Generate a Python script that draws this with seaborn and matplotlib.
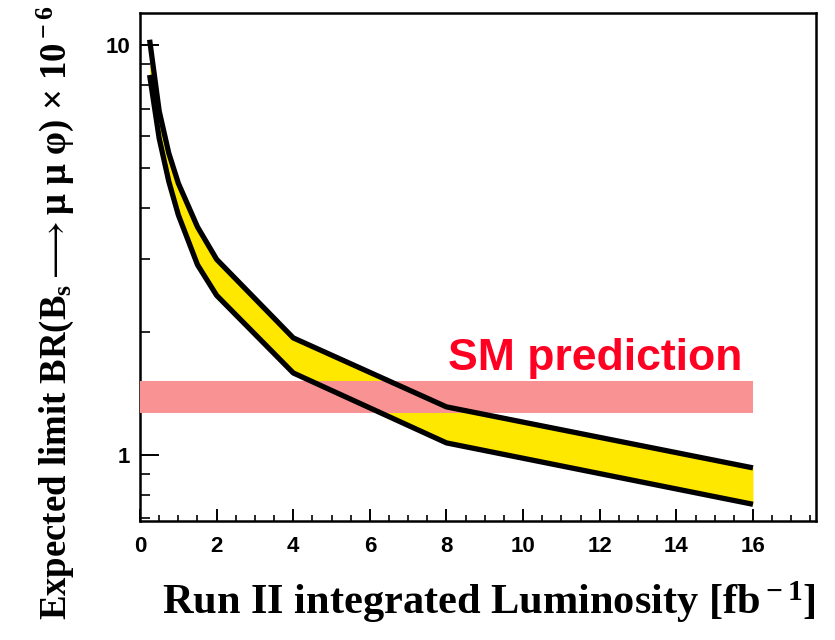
import numpy as np
import pandas as pd
import matplotlib
matplotlib.use("Agg")
import matplotlib.pyplot as plt
from matplotlib.ticker import FixedLocator, MultipleLocator, NullFormatter, FixedFormatter
import seaborn as sns

# Expected limit band vs Run II integrated luminosity
lumi = [0.25, 0.5, 0.75, 1.0, 1.5, 2.0, 4.0, 8.0, 16.0]
limit_high = [10.3, 6.9, 5.45, 4.6, 3.6, 3.0, 1.93, 1.31, 0.93]
limit_low = [8.45, 5.92, 4.65, 3.85, 2.91, 2.45, 1.585, 1.07, 0.758]

# Standard Model prediction band
sm_lumi = [0.0, 16.0]
sm_low = 1.264
sm_high = 1.517

x_ticks = [0, 2, 4, 6, 8, 10, 12, 14, 16]
y_major = [1, 10]
y_minor = [0.7, 0.8, 0.9, 2, 3, 4, 5, 6, 7, 8, 9]

sns.set_theme(style="white")
plt.rcParams["font.family"] = ["Liberation Sans", "DejaVu Sans"]
plt.rcParams["mathtext.fontset"] = "custom"
plt.rcParams["mathtext.rm"] = "Liberation Serif:bold"
plt.rcParams["mathtext.it"] = "Liberation Serif:bold"
plt.rcParams["mathtext.bf"] = "Liberation Serif:bold"

fig = plt.figure(figsize=(8.35, 6.4), dpi=100)
ax = fig.add_axes([0.1677, 0.1859, 0.8093, 0.7938])

df = pd.DataFrame({"lumi": lumi, "high": limit_high, "low": limit_low})

ax.fill_between(df["lumi"], df["low"], df["high"], color="#ffe800",
                linewidth=0, zorder=2)
# pink band drawn over the yellow where they overlap
ax.fill_between(sm_lumi, [sm_low] * 2, [sm_high] * 2, color="#f99393",
                linewidth=0, zorder=3)
sns.lineplot(data=df, x="lumi", y="high", color="black", linewidth=3.8,
             ax=ax, zorder=4, sort=False, solid_capstyle="butt")
sns.lineplot(data=df, x="lumi", y="low", color="black", linewidth=3.8,
             ax=ax, zorder=4, sort=False, solid_capstyle="butt")

ax.text(8.04, 1.61, "SM prediction", color="#ff0022", fontsize=32,
        fontweight="bold", family=["Liberation Sans", "DejaVu Sans"],
        ha="left", va="baseline", zorder=5)

ax.set_yscale("log")
ax.set_xlim(0, 17.64)
ax.set_ylim(0.69, 11.97)

ax.xaxis.set_major_locator(FixedLocator(x_ticks))
ax.xaxis.set_minor_locator(MultipleLocator(0.5))
ax.set_xticklabels([str(t) for t in x_ticks])
ax.yaxis.set_major_locator(FixedLocator(y_major))
ax.yaxis.set_major_formatter(FixedFormatter([str(t) for t in y_major]))
ax.yaxis.set_minor_locator(FixedLocator(y_minor))
ax.yaxis.set_minor_formatter(NullFormatter())

ax.tick_params(axis="x", which="major", direction="in", length=8.6, width=1.4,
               pad=11, labelsize=16, bottom=True, top=False, colors="black")
ax.tick_params(axis="x", which="minor", direction="in", length=4.3, width=1.4,
               bottom=True, top=False)
ax.tick_params(axis="y", which="major", direction="in", length=13.7, width=1.4,
               pad=7, labelsize=16, left=True, right=False, colors="black")
ax.tick_params(axis="y", which="minor", direction="in", length=7.2, width=1.4,
               left=True, right=False)
for lbl in ax.get_xticklabels() + ax.get_yticklabels():
    lbl.set_fontweight("bold")

for sp in ax.spines.values():
    sp.set_color("black")
    sp.set_linewidth(1.8)

serif = ["Liberation Serif", "DejaVu Serif"]
ax.set_xlabel(r"Run II integrated Luminosity [fb$^{\rm -1}$]", fontsize=30.5,
              fontweight="bold", family=serif, loc="right", labelpad=16,
              color="black")
ax.set_ylabel(r"Expected limit BR(B$_{\rm s}$$\longrightarrow$μ μ φ) × 10$^{\rm -6}$",
              fontsize=26.5, fontweight="bold", family=serif, loc="top",
              color="black")
ax.yaxis.set_label_coords(-0.095, 1.016)

fig.savefig("out.png", dpi=100, facecolor="white")
